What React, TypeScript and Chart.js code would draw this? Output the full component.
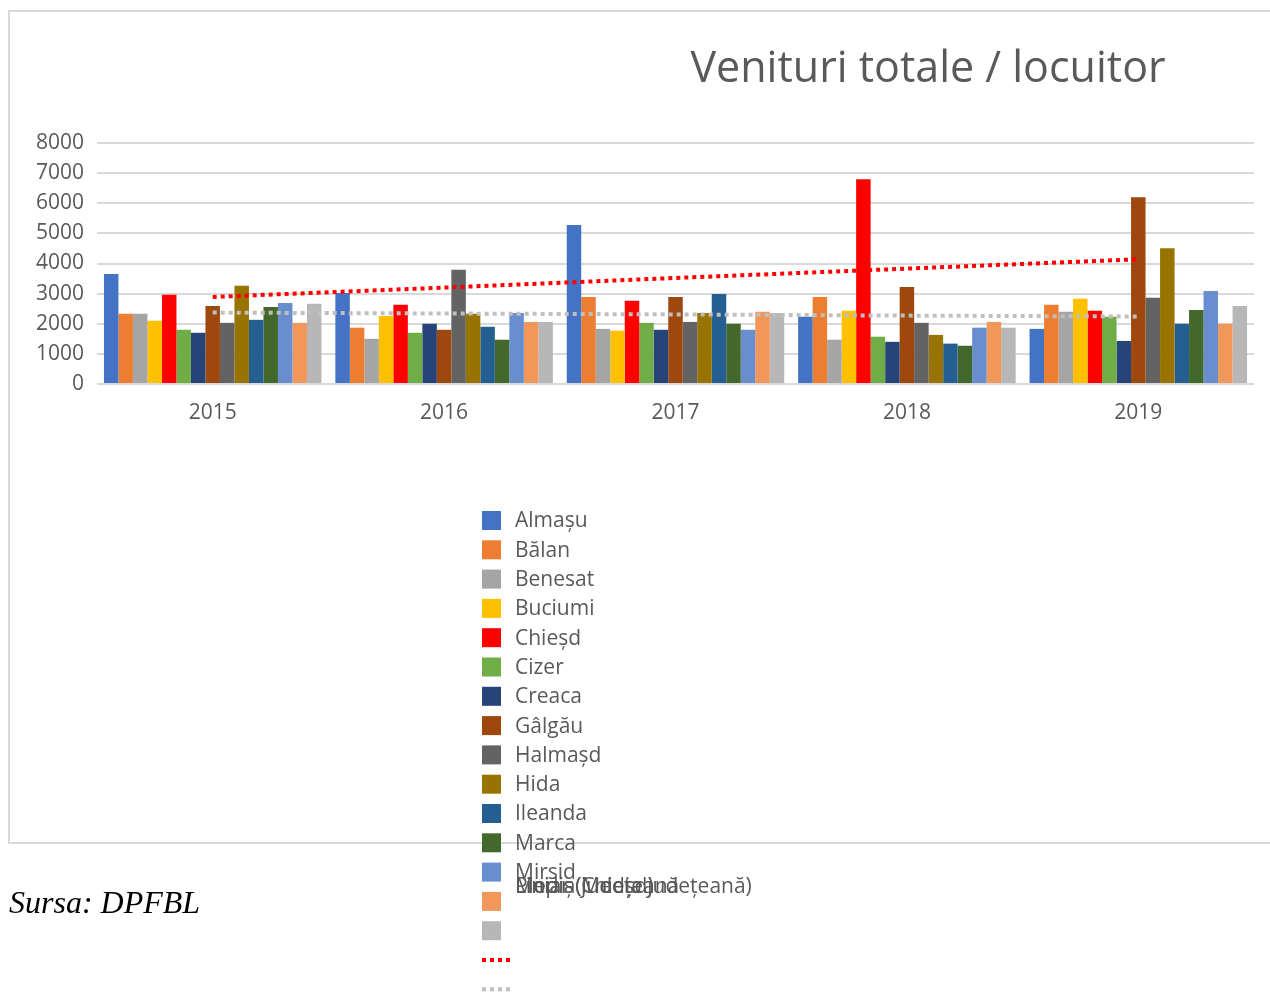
import { useEffect, useRef } from 'react';
import { Chart, registerables } from 'chart.js';

Chart.register(...registerables);

const FONT = '"Open Sans", Lato, sans-serif';
const TEXT = '#595959';

const titleText = 'Venituri totale / locuitor';
const sourceText = 'Sursa: DPFBL';

const years = ['2015', '2016', '2017', '2018', '2019'];
const yTicks = [0, 1000, 2000, 3000, 4000, 5000, 6000, 7000, 8000];

const almasu = [3650, 3020, 5280, 2230, 1830];
const balan = [2330, 1870, 2890, 2890, 2630];
const benesat = [2330, 1500, 1830, 1470, 2400];
const buciumi = [2100, 2260, 1770, 2430, 2830];
const chiesd = [2960, 2630, 2760, 6800, 2430];
const cizer = [1800, 1700, 2030, 1570, 2230];
const creaca = [1700, 2000, 1800, 1400, 1430];
const galgau = [2590, 1800, 2890, 3220, 6200];
const halmasd = [2030, 3790, 2060, 2030, 2860];
const hida = [3260, 2330, 2360, 1630, 4510];
const ileanda = [2130, 1900, 2990, 1340, 2000];
const marca = [2560, 1470, 2000, 1270, 2460];
const mirsid = [2690, 2360, 1800, 1870, 3090];
const plopis = [2030, 2060, 2400, 2060, 2000];
const mediaJud = [2660, 2060, 2360, 1870, 2590];
const trendChiesd = [2890, 3200, 3520, 3830, 4140];
const trendMedia = [2370, 2340, 2310, 2270, 2240];

const barSeries = [
  { label: 'Almașu', data: almasu, color: '#4472C4' },
  { label: 'Bălan', data: balan, color: '#ED7D31' },
  { label: 'Benesat', data: benesat, color: '#A5A5A5' },
  { label: 'Buciumi', data: buciumi, color: '#FFC000' },
  { label: 'Chieșd', data: chiesd, color: '#FF0000' },
  { label: 'Cizer', data: cizer, color: '#70AD47' },
  { label: 'Creaca', data: creaca, color: '#264478' },
  { label: 'Gâlgău', data: galgau, color: '#9E480E' },
  { label: 'Halmașd', data: halmasd, color: '#636363' },
  { label: 'Hida', data: hida, color: '#997300' },
  { label: 'Ileanda', data: ileanda, color: '#255E91' },
  { label: 'Marca', data: marca, color: '#43682B' },
  { label: 'Mirsid', data: mirsid, color: '#698ED0' },
  { label: 'Plopiș', data: plopis, color: '#F1975A' },
  { label: 'Media județeană', data: mediaJud, color: '#B7B7B7' },
];

const lineSeries = [
  { label: 'Liniar (Chieșd)', data: trendChiesd, color: '#FF0000' },
  { label: 'Liniar (Media județeană)', data: trendMedia, color: '#BFBFBF' },
];

const framePlugin = {
  id: 'frameLegend',
  beforeDraw(chart: any) {
    const ctx = chart.ctx;
    ctx.save();
    ctx.strokeStyle = '#d9d9d9';
    ctx.lineWidth = 2;
    ctx.strokeRect(9, 11, 1270, 832);
    ctx.restore();
  },
  afterDraw(chart: any) {
    const ctx = chart.ctx;
    ctx.save();
    ctx.fillStyle = TEXT;
    ctx.font = `43px ${FONT}`;
    ctx.textAlign = 'center';
    ctx.textBaseline = 'middle';
    ctx.fillText(titleText, 928, 70);
    ctx.font = `21px ${FONT}`;
    ctx.textAlign = 'left';
    chart.data.datasets.forEach((ds: any, i: number) => {
      const y = 520.5 + i * 29.3;
      if (ds.type === 'line') {
        ctx.strokeStyle = ds.borderColor;
        ctx.lineWidth = 4;
        ctx.setLineDash([4, 4]);
        ctx.beginPath();
        ctx.moveTo(482, y);
        ctx.lineTo(512, y);
        ctx.stroke();
        ctx.setLineDash([]);
      } else {
        ctx.fillStyle = ds.backgroundColor;
        ctx.fillRect(482, y - 9.5, 19, 19);
      }
      ctx.fillStyle = TEXT;
      const ty = i <= 12 ? y + 1 : 887;
      ctx.fillText(ds.label, 515, ty);
    });
    ctx.restore();
  },
};

export default function App() {
  const ref = useRef<HTMLCanvasElement>(null);
  useEffect(() => {
    if (!ref.current) return;
    const datasets: any[] = [
      ...barSeries.map((s) => ({
        type: 'bar',
        label: s.label,
        data: s.data,
        backgroundColor: s.color,
        borderWidth: 0,
        barPercentage: 1,
        categoryPercentage: 0.94,
        order: 2,
      })),
      ...lineSeries.map((s) => ({
        type: 'line',
        label: s.label,
        data: s.data,
        borderColor: s.color,
        backgroundColor: s.color,
        borderWidth: 4,
        borderDash: [4, 4],
        borderCapStyle: 'butt',
        pointRadius: 0,
        fill: false,
        tension: 0,
        order: 1,
      })),
    ];
    const chart = new Chart(ref.current, {
      type: 'bar',
      data: { labels: years, datasets },
      options: {
        responsive: false,
        animation: false,
        layout: { padding: { top: 143, right: 16, bottom: 549, left: 0 } },
        plugins: {
          legend: { display: false },
          title: { display: false },
          tooltip: { enabled: false },
        },
        scales: {
          x: {
            grid: { display: false, drawTicks: false },
            border: { display: false },
            ticks: { color: TEXT, font: { family: FONT, size: 21 }, padding: 16 },
            afterFit: (scale: any) => {
              scale.height = 60;
            },
          },
          y: {
            min: 0,
            max: 8000,
            afterBuildTicks: (scale: any) => {
              scale.ticks = yTicks.map((v) => ({ value: v }));
            },
            grid: { color: '#d9d9d9', lineWidth: 2, drawTicks: false },
            border: { display: false },
            ticks: {
              color: TEXT,
              font: { family: FONT, size: 21 },
              padding: 13,
              callback: (v: any) => String(v),
            },
            afterFit: (scale: any) => {
              scale.width = 97;
            },
          },
        },
      } as any,
      plugins: [framePlugin],
    });
    return () => chart.destroy();
  }, []);

  return (
    <div style={{ position: 'absolute', left: 0, top: 0, width: 1270, height: 993 }}>
      <canvas ref={ref} width={1270} height={993} style={{ display: 'block' }} />
      <div
        style={{
          position: 'absolute',
          left: 9,
          top: 886,
          fontFamily: '"Liberation Serif", "Times New Roman", serif',
          fontStyle: 'italic',
          fontSize: 32,
          lineHeight: '32px',
          color: '#000',
          whiteSpace: 'nowrap',
        }}
      >
        {sourceText}
      </div>
    </div>
  );
}
